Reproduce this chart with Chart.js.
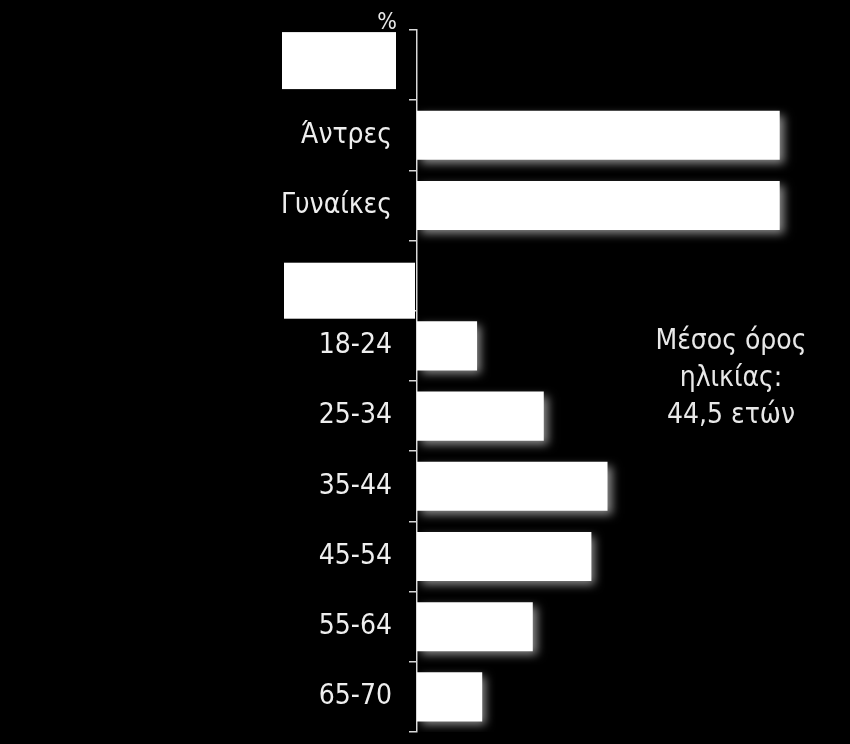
<!DOCTYPE html>
<html>
<head>
<meta charset="utf-8">
<script src="https://cdn.jsdelivr.net/npm/chart.js@4.4.1/dist/chart.umd.min.js"></script>
<style>
  html, body { margin: 0; padding: 0; background: #000; overflow: hidden; }
  canvas { display: block; }
</style>
</head>
<body>
<canvas id="profileChart" width="850" height="744"></canvas>
<script>
const categories = ["", "Άντρες", "Γυναίκες", "", "18-24", "25-34", "35-44", "45-54", "55-64", "65-70"];
const shares = [null, 49.5, 49.5, null, 8.2, 17.3, 26.0, 23.8, 15.8, 8.9];
const noteLines = ["Μέσος όρος", "ηλικίας:", "44,5 ετών"];
const unitLabel = "%";

const FONT = "'DejaVu Sans Condensed', 'DejaVu Sans', sans-serif";

// white boxes that mask the two group headings
const masks = [
  { index: 0, left: 282, right: 396, dy: -33, h: 57 },
  { index: 3, left: 284, right: 415, dy: -13, h: 56 },
];

const backdrop = {
  id: "backdrop",
  beforeDraw(chart) {
    const c = chart.ctx;
    c.save();
    c.fillStyle = "#000";
    c.fillRect(0, 0, chart.width, chart.height);
    c.restore();
  },
};

const glow = {
  id: "glow",
  beforeDatasetsDraw(chart) {
    const c = chart.ctx;
    c.save();
    c.shadowColor = "rgba(190,190,190,0.75)";
    c.shadowBlur = 9;
    c.shadowOffsetX = 4;
    c.shadowOffsetY = 4;
  },
  afterDatasetsDraw(chart) {
    chart.ctx.restore();
  },
};

const extras = {
  id: "extras",
  afterDraw(chart) {
    const c = chart.ctx;
    const y = chart.scales.y;
    const area = chart.chartArea;
    c.save();
    c.fillStyle = "#fff";
    masks.forEach((m) => {
      const top = y.getPixelForValue(m.index) + m.dy;
      c.fillRect(m.left, top, m.right - m.left, m.h);
    });

    c.fillStyle = "#e8e8e8";
    c.font = "23px " + FONT;
    c.textAlign = "right";
    c.textBaseline = "bottom";
    c.fillText(unitLabel, area.left - 20, area.top + 5);

    c.font = "28px " + FONT;
    c.textAlign = "center";
    c.textBaseline = "middle";
    noteLines.forEach((line, i) => {
      c.fillText(line, 731, y.getPixelForValue(4) - 4 + i * 37);
    });
    c.restore();
  },
};

new Chart(document.getElementById("profileChart"), {
  type: "bar",
  data: {
    labels: categories,
    datasets: [
      {
        data: shares,
        backgroundColor: "#ffffff",
        borderWidth: 0,
        categoryPercentage: 1,
        barPercentage: 0.7,
      },
    ],
  },
  options: {
    indexAxis: "y",
    responsive: false,
    animation: false,
    devicePixelRatio: 1,
    layout: { padding: { top: 30, bottom: 12, left: 0, right: 8 } },
    plugins: {
      legend: { display: false },
      tooltip: { enabled: false },
    },
    scales: {
      x: {
        display: false,
        min: 0,
        max: 58,
      },
      y: {
        afterFit(scale) {
          scale.width = 417;
          scale.paddingTop = 0;
          scale.paddingBottom = 0;
        },
        border: { display: true, color: "#d8d8d8", width: 1.5 },
        grid: {
          drawOnChartArea: false,
          drawTicks: true,
          tickLength: 8,
          color: "#d8d8d8",
          lineWidth: 1.5,
        },
        ticks: {
          color: "#eeeeee",
          padding: 17,
          font: { family: FONT, size: 28 },
        },
      },
    },
  },
  plugins: [backdrop, glow, extras],
});
</script>
</body>
</html>
